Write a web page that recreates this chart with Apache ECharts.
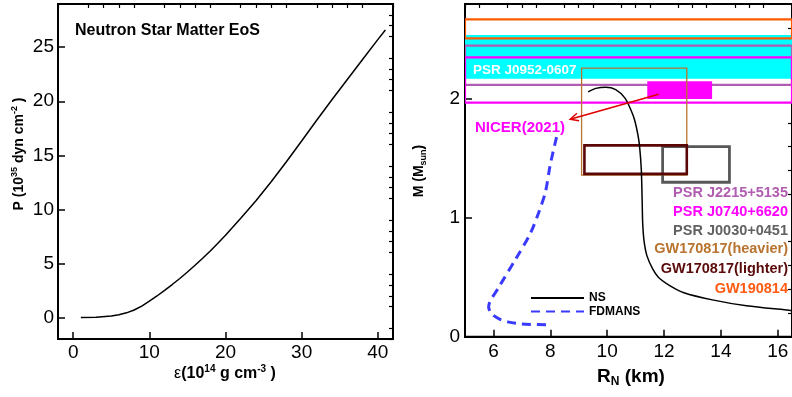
<!DOCTYPE html>
<html>
<head>
<meta charset="utf-8">
<script src="https://cdn.jsdelivr.net/npm/echarts@6/dist/echarts.min.js"></script>
<style>
  html, body { margin: 0; padding: 0; background: #fff; }
  #chart { width: 792px; height: 397px; }
</style>
</head>
<body>
<div id="chart"></div>
<script>
// ---- Equation of state: pressure vs energy density ----
const eosEnergy   = [1, 3, 5, 6, 7, 8, 9, 10, 11, 12, 13, 14, 15, 16, 17, 18, 19, 20, 22, 24, 26, 28, 30, 32, 34, 36, 38, 40, 41];
const eosPressure = [0, 0.02, 0.12, 0.24, 0.42, 0.68, 1.05, 1.5, 1.98, 2.5, 3.04, 3.6, 4.2, 4.82, 5.47, 6.15, 6.86, 7.6, 9.17, 10.8, 12.55, 14.4, 16.32, 18.26, 20.16, 22.02, 23.86, 25.7, 26.6];

// ---- Mass-radius relations ----
const nsRadius = [9.33, 9.6, 9.95, 10.3, 10.62, 10.85, 10.97, 11.08, 11.14, 11.2, 11.23, 11.25, 11.3, 11.4, 11.6, 11.8, 12.2, 12.7, 13.7, 14.9, 16.5];
const nsMass   = [2.06, 2.09, 2.10, 2.08, 2.01, 1.90, 1.82, 1.70, 1.60, 1.41, 1.15, 0.95, 0.80, 0.68, 0.57, 0.50, 0.43, 0.37, 0.31, 0.26, 0.22];
const fdRadius = [8.22, 8.0, 7.83, 7.6, 7.3, 6.8, 6.2, 5.83, 5.95, 6.2, 6.5, 7.0, 7.85];
const fdMass   = [1.68, 1.45, 1.22, 1.05, 0.87, 0.66, 0.42, 0.25, 0.19, 0.15, 0.125, 0.107, 0.10];

// ---- Observational constraints (radius in km, mass in solar masses) ----
const gw190814Mass = [2.51, 2.67];
const j0952Mass    = [2.17, 2.54];
const j2215Mass    = [2.12, 2.45];
const j0740Mass    = [1.97, 2.35];
const nicerRadius  = [11.41, 13.69];
const nicerMass    = [2.0, 2.15];
const gwHeavyRadius = [9.1, 12.8];
const gwHeavyMass   = [1.36, 2.26];
const gwLightRadius = [9.2, 12.8];
const gwLightMass   = [1.37, 1.61];
const j0030Radius   = [11.95, 14.3];
const j0030Mass     = [1.30, 1.60];
const nicerArrowFrom = [11.81, 2.04];
const nicerArrowTo   = [8.70, 1.83];

// ---- Axis ranges and ticks ----
const epsRange = [-2, 42];
const presRange = [-2, 29];
const radRange = [5, 16.5];
const massRange = [0, 2.8];
const epsTicks = [0, 10, 20, 30, 40];
const epsMinor = [-2, 2, 4, 6, 8, 12, 14, 16, 18, 22, 24, 26, 28, 32, 34, 36, 38, 42];
const presTicks = [0, 5, 10, 15, 20, 25];
const presMinor = [-2, -1, 1, 2, 3, 4, 6, 7, 8, 9, 11, 12, 13, 14, 16, 17, 18, 19, 21, 22, 23, 24, 26, 27, 28];
const radTicks = [6, 8, 10, 12, 14, 16];
const radMinor = [5, 5.5, 6.5, 7, 7.5, 8.5, 9, 9.5, 10.5, 11, 11.5, 12.5, 13, 13.5, 14.5, 15, 15.5, 16.5];
const massTicks = [0, 1, 2];
const massMinor = [0.2, 0.4, 0.6, 0.8, 1.2, 1.4, 1.6, 1.8, 2.2, 2.4, 2.6];

const FONT = '"Liberation Sans", Arial, Helvetica, sans-serif';

function zip(a, b) { return a.map((v, i) => [v, b[i]]); }

function majorAxis(grid, range, ticks, labelMargin) {
  return {
    type: 'value', gridIndex: grid, min: range[0], max: range[1],
    axisLine: { show: true, onZero: false, lineStyle: { color: '#000', width: 2 } },
    axisTick: { show: true, inside: true, length: 7, customValues: ticks, lineStyle: { color: '#000', width: 1.5 } },
    axisLabel: { show: true, customValues: ticks, fontSize: 19, fontFamily: FONT, color: '#000', margin: labelMargin },
    splitLine: { show: false }
  };
}
function minorAxis(grid, range, ticks) {
  return {
    type: 'value', gridIndex: grid, min: range[0], max: range[1],
    axisLine: { show: false, onZero: false },
    axisTick: { show: true, inside: true, length: 4, customValues: ticks, lineStyle: { color: '#000', width: 1.2 } },
    axisLabel: { show: false },
    splitLine: { show: false }
  };
}

// Rectangle in (radius, mass) space drawn through the axes of the right panel
function boxSeries(name, rRange, mRange, style, z) {
  return {
    type: 'custom', name: name, xAxisIndex: 2, yAxisIndex: 2, z: z, clip: true, silent: true,
    data: [[rRange[0], rRange[1], mRange[0], mRange[1]]],
    renderItem: function (params, api) {
      const p0 = api.coord([api.value(0), api.value(3)]);
      const p1 = api.coord([api.value(1), api.value(2)]);
      return {
        type: 'rect',
        shape: { x: p0[0], y: p0[1], width: p1[0] - p0[0], height: p1[1] - p0[1] },
        style: style
      };
    }
  };
}

const arrowSeries = {
  type: 'custom', name: 'NICER arrow', xAxisIndex: 2, yAxisIndex: 2, z: 20, silent: true,
  data: [[nicerArrowFrom[0], nicerArrowFrom[1], nicerArrowTo[0], nicerArrowTo[1]]],
  renderItem: function (params, api) {
    const a = api.coord([api.value(0), api.value(1)]);
    const b = api.coord([api.value(2), api.value(3)]);
    const ang = Math.atan2(a[1] - b[1], a[0] - b[0]);
    const len = 9, spread = 0.45;
    const h1 = [b[0] + len * Math.cos(ang + spread), b[1] + len * Math.sin(ang + spread)];
    const h2 = [b[0] + len * Math.cos(ang - spread), b[1] + len * Math.sin(ang - spread)];
    const st = { stroke: '#e00000', lineWidth: 1.5, fill: null };
    return {
      type: 'group',
      children: [
        { type: 'line', shape: { x1: a[0], y1: a[1], x2: b[0], y2: b[1] }, style: st },
        { type: 'polyline', shape: { points: [h1, b, h2] }, style: st }
      ]
    };
  }
};

const supRich = {
  b: { fontSize: 16, fontWeight: 'bold', fontFamily: FONT, color: '#000', lineHeight: 20 },
  e: { fontSize: 16, fontWeight: 'normal', fontFamily: FONT, color: '#000', lineHeight: 20 },
  s: { fontSize: 10, fontWeight: 'bold', fontFamily: FONT, color: '#000', lineHeight: 11, verticalAlign: 'top' },
  bm: { fontSize: 14, fontWeight: 'bold', fontFamily: FONT, color: '#000', lineHeight: 18 },
  sm: { fontSize: 9, fontWeight: 'bold', fontFamily: FONT, color: '#000', lineHeight: 10, verticalAlign: 'top' },
  lo: { fontSize: 9, fontWeight: 'bold', fontFamily: FONT, color: '#000', lineHeight: 10, verticalAlign: 'bottom' },
  bl: { fontSize: 19, fontWeight: 'bold', fontFamily: FONT, color: '#000', lineHeight: 22 },
  ll: { fontSize: 12, fontWeight: 'bold', fontFamily: FONT, color: '#000', lineHeight: 12, verticalAlign: 'bottom' }
};

function label(text, x, y, color, size, align) {
  return {
    type: 'text', x: x, y: y, z: 100,
    style: { text: text, fill: color, font: 'bold ' + size + 'px ' + FONT, align: align || 'left', verticalAlign: 'middle' }
  };
}

const chart = echarts.init(document.getElementById('chart'), null, { renderer: 'canvas' });

chart.setOption({
  animation: false,
  backgroundColor: '#fff',
  grid: [
    { left: 58, top: 4, width: 335, height: 335, show: true, borderColor: '#000', borderWidth: 2, backgroundColor: 'transparent' },
    { left: 465, top: 4, width: 330, height: 332.7, show: true, borderColor: '#000', borderWidth: 2, backgroundColor: 'transparent' }
  ],
  xAxis: [
    majorAxis(0, epsRange, epsTicks, 4),
    minorAxis(0, epsRange, epsMinor),
    majorAxis(1, radRange, radTicks, 6),
    minorAxis(1, radRange, radMinor)
  ],
  yAxis: [
    majorAxis(0, presRange, presTicks, 4),
    minorAxis(0, presRange, presMinor),
    majorAxis(1, massRange, massTicks, 5),
    minorAxis(1, massRange, massMinor)
  ],
  legend: {
    data: ['NS', 'FDMANS'],
    orient: 'vertical', left: 525, top: 287,
    itemWidth: 53, itemHeight: 10, itemGap: 1.5,
    itemStyle: { opacity: 0 },
    textStyle: { fontFamily: FONT, fontWeight: 'bold', fontSize: 12, color: '#000', lineHeight: 10, padding: [0, 0, 0, 0] },
    selectedMode: false
  },
  series: [
    {
      type: 'line', name: 'EoS', xAxisIndex: 0, yAxisIndex: 0,
      data: zip(eosEnergy, eosPressure), smooth: false, showSymbol: false,
      lineStyle: { color: '#000', width: 1.5 }, silent: true
    },
    boxSeries('PSR J0952-0607', radRange, j0952Mass, { fill: '#00ffff', stroke: null }, 1),
    boxSeries('GW190814', radRange, gw190814Mass, { fill: null, stroke: '#ff5a00', lineWidth: 2.2 }, 2),
    boxSeries('PSR J2215+5135', radRange, j2215Mass, { fill: null, stroke: '#b05cb0', lineWidth: 2.2 }, 3),
    boxSeries('PSR J0740+6620', radRange, j0740Mass, { fill: null, stroke: '#ff00ff', lineWidth: 2.2 }, 4),
    boxSeries('NICER(2021)', nicerRadius, nicerMass, { fill: '#ff00ff', stroke: null }, 5),
    boxSeries('GW170817(heavier)', gwHeavyRadius, gwHeavyMass, { fill: null, stroke: '#b8732e', lineWidth: 1.3 }, 6),
    boxSeries('PSR J0030+0451', j0030Radius, j0030Mass, { fill: null, stroke: '#585858', lineWidth: 2.8 }, 7),
    boxSeries('GW170817(lighter)', gwLightRadius, gwLightMass, { fill: null, stroke: '#5a0606', lineWidth: 2.6 }, 8),
    {
      type: 'line', name: 'NS', xAxisIndex: 2, yAxisIndex: 2, z: 10,
      data: zip(nsRadius, nsMass), smooth: 0.3, showSymbol: false, symbol: 'none',
      lineStyle: { color: '#000', width: 1.5 }, itemStyle: { color: '#000' }, silent: true
    },
    {
      type: 'line', name: 'FDMANS', xAxisIndex: 2, yAxisIndex: 2, z: 10,
      data: zip(fdRadius, fdMass), smooth: 0.3, showSymbol: false, symbol: 'none',
      lineStyle: { color: '#3a3aff', width: 3, type: [9, 6] }, itemStyle: { color: '#3a3aff' }, silent: true
    },
    arrowSeries
  ],
  graphic: [
    label('Neutron Star Matter EoS', 75, 31, '#000', 16),
    {
      type: 'text', x: 225, y: 374, z: 100,
      style: { text: '{e|ε}{b|(10}{s|14}{b| g cm}{s|-3}{b| )}', rich: supRich, align: 'center', verticalAlign: 'middle' }
    },
    {
      type: 'text', x: 19, y: 154, rotation: Math.PI / 2, z: 100,
      style: { text: '{bm|P (10}{sm|35}{bm| dyn cm}{sm|-2}{bm| )}', rich: supRich, align: 'center', verticalAlign: 'middle' }
    },
    {
      type: 'text', x: 631, y: 377, z: 100,
      style: { text: '{bl|R}{ll|N}{bl| (km)}', rich: supRich, align: 'center', verticalAlign: 'middle' }
    },
    {
      type: 'text', x: 419, y: 171, rotation: Math.PI / 2, z: 100,
      style: { text: '{bm|M (M}{lo|sun}{bm|)}', rich: supRich, align: 'center', verticalAlign: 'middle' }
    },
    label('PSR J0952-0607', 473, 70, '#ffffff', 13.5),
    label('NICER(2021)', 475, 128, '#ff00ff', 15),
    label('PSR J2215+5135', 788, 193, '#b05cb0', 14.5, 'right'),
    label('PSR J0740+6620', 788, 212, '#ff00ff', 14.5, 'right'),
    label('PSR J0030+0451', 788, 231, '#616161', 14.5, 'right'),
    label('GW170817(heavier)', 788, 249, '#b8732e', 14.5, 'right'),
    label('GW170817(lighter)', 788, 269, '#5a0a0a', 14.5, 'right'),
    label('GW190814', 788, 289, '#ff5a10', 14.5, 'right')
  ]
});
</script>
</body>
</html>
